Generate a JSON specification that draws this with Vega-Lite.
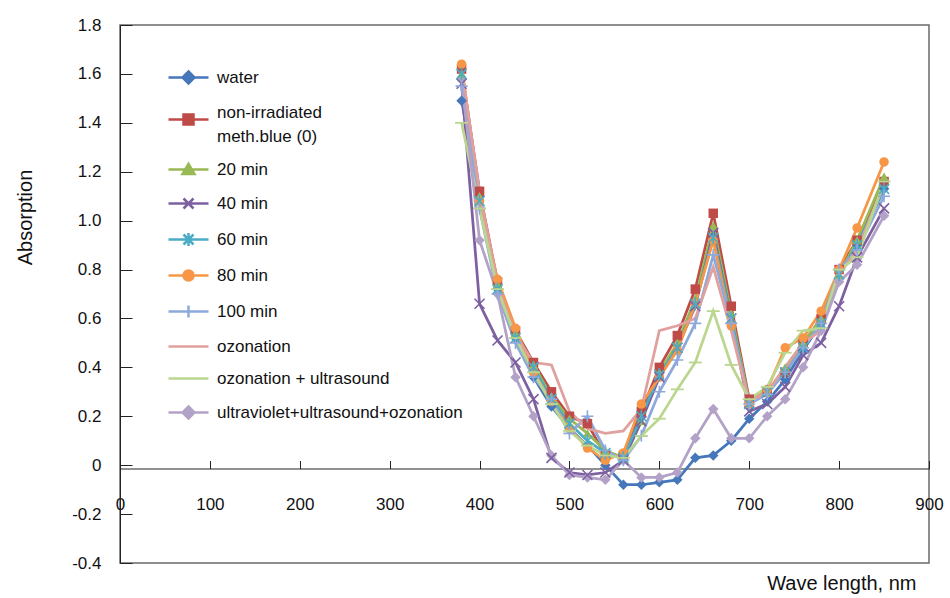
{
  "$schema": "https://vega.github.io/schema/vega-lite/v6.json",
  "width": 809,
  "height": 538,
  "autosize": {"type": "none"},
  "padding": {"left": 120, "top": 25, "right": 21, "bottom": 35},
  "background": "white",
  "config": {"view": {"stroke": "#6a6a6a", "strokeWidth": 1.5}, "font": "Liberation Sans"},
  "data": {"values": [
    {"s":"water","x":380,"y":1.49},{"s":"water","x":400,"y":1.10},{"s":"water","x":420,"y":0.72},{"s":"water","x":440,"y":0.52},{"s":"water","x":460,"y":0.36},{"s":"water","x":480,"y":0.24},{"s":"water","x":500,"y":0.15},{"s":"water","x":520,"y":0.08},{"s":"water","x":540,"y":0.00},{"s":"water","x":560,"y":-0.08},{"s":"water","x":580,"y":-0.08},{"s":"water","x":600,"y":-0.07},{"s":"water","x":620,"y":-0.06},{"s":"water","x":640,"y":0.03},{"s":"water","x":660,"y":0.04},{"s":"water","x":680,"y":0.10},{"s":"water","x":700,"y":0.19},{"s":"water","x":720,"y":0.26},{"s":"water","x":740,"y":0.35},{"s":"water","x":760,"y":0.47},{"s":"water","x":780,"y":0.58},{"s":"water","x":800,"y":0.80},{"s":"water","x":820,"y":0.90},{"s":"water","x":850,"y":1.13},
    {"s":"non-irradiated meth.blue (0)","x":380,"y":1.62},{"s":"non-irradiated meth.blue (0)","x":400,"y":1.12},{"s":"non-irradiated meth.blue (0)","x":420,"y":0.75},{"s":"non-irradiated meth.blue (0)","x":440,"y":0.55},{"s":"non-irradiated meth.blue (0)","x":460,"y":0.42},{"s":"non-irradiated meth.blue (0)","x":480,"y":0.30},{"s":"non-irradiated meth.blue (0)","x":500,"y":0.20},{"s":"non-irradiated meth.blue (0)","x":520,"y":0.17},{"s":"non-irradiated meth.blue (0)","x":540,"y":0.04},{"s":"non-irradiated meth.blue (0)","x":560,"y":0.04},{"s":"non-irradiated meth.blue (0)","x":580,"y":0.22},{"s":"non-irradiated meth.blue (0)","x":600,"y":0.40},{"s":"non-irradiated meth.blue (0)","x":620,"y":0.53},{"s":"non-irradiated meth.blue (0)","x":640,"y":0.72},{"s":"non-irradiated meth.blue (0)","x":660,"y":1.03},{"s":"non-irradiated meth.blue (0)","x":680,"y":0.65},{"s":"non-irradiated meth.blue (0)","x":700,"y":0.27},{"s":"non-irradiated meth.blue (0)","x":720,"y":0.30},{"s":"non-irradiated meth.blue (0)","x":740,"y":0.38},{"s":"non-irradiated meth.blue (0)","x":760,"y":0.50},{"s":"non-irradiated meth.blue (0)","x":780,"y":0.60},{"s":"non-irradiated meth.blue (0)","x":800,"y":0.80},{"s":"non-irradiated meth.blue (0)","x":820,"y":0.92},{"s":"non-irradiated meth.blue (0)","x":850,"y":1.16},
    {"s":"20 min","x":380,"y":1.60},{"s":"20 min","x":400,"y":1.10},{"s":"20 min","x":420,"y":0.74},{"s":"20 min","x":440,"y":0.54},{"s":"20 min","x":460,"y":0.41},{"s":"20 min","x":480,"y":0.28},{"s":"20 min","x":500,"y":0.19},{"s":"20 min","x":520,"y":0.13},{"s":"20 min","x":540,"y":0.06},{"s":"20 min","x":560,"y":0.03},{"s":"20 min","x":580,"y":0.18},{"s":"20 min","x":600,"y":0.38},{"s":"20 min","x":620,"y":0.50},{"s":"20 min","x":640,"y":0.68},{"s":"20 min","x":660,"y":0.98},{"s":"20 min","x":680,"y":0.62},{"s":"20 min","x":700,"y":0.26},{"s":"20 min","x":720,"y":0.30},{"s":"20 min","x":740,"y":0.40},{"s":"20 min","x":760,"y":0.50},{"s":"20 min","x":780,"y":0.60},{"s":"20 min","x":800,"y":0.78},{"s":"20 min","x":820,"y":0.92},{"s":"20 min","x":850,"y":1.18},
    {"s":"40 min","x":380,"y":1.56},{"s":"40 min","x":400,"y":0.66},{"s":"40 min","x":420,"y":0.51},{"s":"40 min","x":440,"y":0.42},{"s":"40 min","x":460,"y":0.27},{"s":"40 min","x":480,"y":0.03},{"s":"40 min","x":500,"y":-0.03},{"s":"40 min","x":520,"y":-0.04},{"s":"40 min","x":540,"y":-0.03},{"s":"40 min","x":560,"y":0.02},{"s":"40 min","x":580,"y":0.18},{"s":"40 min","x":600,"y":0.36},{"s":"40 min","x":620,"y":0.48},{"s":"40 min","x":640,"y":0.65},{"s":"40 min","x":660,"y":0.95},{"s":"40 min","x":680,"y":0.60},{"s":"40 min","x":700,"y":0.22},{"s":"40 min","x":720,"y":0.25},{"s":"40 min","x":740,"y":0.32},{"s":"40 min","x":760,"y":0.45},{"s":"40 min","x":780,"y":0.50},{"s":"40 min","x":800,"y":0.65},{"s":"40 min","x":820,"y":0.85},{"s":"40 min","x":850,"y":1.05},
    {"s":"60 min","x":380,"y":1.60},{"s":"60 min","x":400,"y":1.08},{"s":"60 min","x":420,"y":0.72},{"s":"60 min","x":440,"y":0.52},{"s":"60 min","x":460,"y":0.40},{"s":"60 min","x":480,"y":0.27},{"s":"60 min","x":500,"y":0.17},{"s":"60 min","x":520,"y":0.10},{"s":"60 min","x":540,"y":0.05},{"s":"60 min","x":560,"y":0.03},{"s":"60 min","x":580,"y":0.20},{"s":"60 min","x":600,"y":0.37},{"s":"60 min","x":620,"y":0.48},{"s":"60 min","x":640,"y":0.66},{"s":"60 min","x":660,"y":0.93},{"s":"60 min","x":680,"y":0.60},{"s":"60 min","x":700,"y":0.25},{"s":"60 min","x":720,"y":0.30},{"s":"60 min","x":740,"y":0.38},{"s":"60 min","x":760,"y":0.48},{"s":"60 min","x":780,"y":0.58},{"s":"60 min","x":800,"y":0.78},{"s":"60 min","x":820,"y":0.90},{"s":"60 min","x":850,"y":1.13},
    {"s":"80 min","x":380,"y":1.64},{"s":"80 min","x":400,"y":1.08},{"s":"80 min","x":420,"y":0.76},{"s":"80 min","x":440,"y":0.56},{"s":"80 min","x":460,"y":0.38},{"s":"80 min","x":480,"y":0.26},{"s":"80 min","x":500,"y":0.15},{"s":"80 min","x":520,"y":0.07},{"s":"80 min","x":540,"y":0.02},{"s":"80 min","x":560,"y":0.05},{"s":"80 min","x":580,"y":0.25},{"s":"80 min","x":600,"y":0.36},{"s":"80 min","x":620,"y":0.47},{"s":"80 min","x":640,"y":0.66},{"s":"80 min","x":660,"y":0.92},{"s":"80 min","x":680,"y":0.57},{"s":"80 min","x":700,"y":0.25},{"s":"80 min","x":720,"y":0.31},{"s":"80 min","x":740,"y":0.48},{"s":"80 min","x":760,"y":0.52},{"s":"80 min","x":780,"y":0.63},{"s":"80 min","x":800,"y":0.80},{"s":"80 min","x":820,"y":0.97},{"s":"80 min","x":850,"y":1.24},
    {"s":"100 min","x":380,"y":1.55},{"s":"100 min","x":400,"y":1.05},{"s":"100 min","x":420,"y":0.70},{"s":"100 min","x":440,"y":0.50},{"s":"100 min","x":460,"y":0.36},{"s":"100 min","x":480,"y":0.27},{"s":"100 min","x":500,"y":0.13},{"s":"100 min","x":520,"y":0.20},{"s":"100 min","x":540,"y":0.06},{"s":"100 min","x":560,"y":0.02},{"s":"100 min","x":580,"y":0.12},{"s":"100 min","x":600,"y":0.30},{"s":"100 min","x":620,"y":0.43},{"s":"100 min","x":640,"y":0.58},{"s":"100 min","x":660,"y":0.86},{"s":"100 min","x":680,"y":0.58},{"s":"100 min","x":700,"y":0.25},{"s":"100 min","x":720,"y":0.29},{"s":"100 min","x":740,"y":0.38},{"s":"100 min","x":760,"y":0.48},{"s":"100 min","x":780,"y":0.58},{"s":"100 min","x":800,"y":0.80},{"s":"100 min","x":820,"y":0.88},{"s":"100 min","x":850,"y":1.10},
    {"s":"ozonation","x":380,"y":1.62},{"s":"ozonation","x":400,"y":1.12},{"s":"ozonation","x":420,"y":0.74},{"s":"ozonation","x":440,"y":0.53},{"s":"ozonation","x":460,"y":0.42},{"s":"ozonation","x":480,"y":0.41},{"s":"ozonation","x":500,"y":0.22},{"s":"ozonation","x":520,"y":0.15},{"s":"ozonation","x":540,"y":0.13},{"s":"ozonation","x":560,"y":0.14},{"s":"ozonation","x":580,"y":0.23},{"s":"ozonation","x":600,"y":0.55},{"s":"ozonation","x":620,"y":0.57},{"s":"ozonation","x":640,"y":0.60},{"s":"ozonation","x":660,"y":0.81},{"s":"ozonation","x":680,"y":0.55},{"s":"ozonation","x":700,"y":0.26},{"s":"ozonation","x":720,"y":0.30},{"s":"ozonation","x":740,"y":0.40},{"s":"ozonation","x":760,"y":0.50},{"s":"ozonation","x":780,"y":0.55},{"s":"ozonation","x":800,"y":0.78},{"s":"ozonation","x":820,"y":0.88},{"s":"ozonation","x":850,"y":1.15},
    {"s":"ozonation + ultrasound","x":380,"y":1.40},{"s":"ozonation + ultrasound","x":400,"y":1.05},{"s":"ozonation + ultrasound","x":420,"y":0.72},{"s":"ozonation + ultrasound","x":440,"y":0.52},{"s":"ozonation + ultrasound","x":460,"y":0.38},{"s":"ozonation + ultrasound","x":480,"y":0.25},{"s":"ozonation + ultrasound","x":500,"y":0.14},{"s":"ozonation + ultrasound","x":520,"y":0.08},{"s":"ozonation + ultrasound","x":540,"y":0.04},{"s":"ozonation + ultrasound","x":560,"y":0.03},{"s":"ozonation + ultrasound","x":580,"y":0.12},{"s":"ozonation + ultrasound","x":600,"y":0.19},{"s":"ozonation + ultrasound","x":620,"y":0.31},{"s":"ozonation + ultrasound","x":640,"y":0.42},{"s":"ozonation + ultrasound","x":660,"y":0.63},{"s":"ozonation + ultrasound","x":680,"y":0.41},{"s":"ozonation + ultrasound","x":700,"y":0.27},{"s":"ozonation + ultrasound","x":720,"y":0.32},{"s":"ozonation + ultrasound","x":740,"y":0.46},{"s":"ozonation + ultrasound","x":760,"y":0.55},{"s":"ozonation + ultrasound","x":780,"y":0.56},{"s":"ozonation + ultrasound","x":800,"y":0.80},{"s":"ozonation + ultrasound","x":820,"y":0.85},{"s":"ozonation + ultrasound","x":850,"y":1.16},
    {"s":"ultraviolet+ultrasound+ozonation","x":380,"y":1.58},{"s":"ultraviolet+ultrasound+ozonation","x":400,"y":0.92},{"s":"ultraviolet+ultrasound+ozonation","x":420,"y":0.70},{"s":"ultraviolet+ultrasound+ozonation","x":440,"y":0.36},{"s":"ultraviolet+ultrasound+ozonation","x":460,"y":0.20},{"s":"ultraviolet+ultrasound+ozonation","x":480,"y":0.04},{"s":"ultraviolet+ultrasound+ozonation","x":500,"y":-0.04},{"s":"ultraviolet+ultrasound+ozonation","x":520,"y":-0.05},{"s":"ultraviolet+ultrasound+ozonation","x":540,"y":-0.06},{"s":"ultraviolet+ultrasound+ozonation","x":560,"y":0.02},{"s":"ultraviolet+ultrasound+ozonation","x":580,"y":-0.05},{"s":"ultraviolet+ultrasound+ozonation","x":600,"y":-0.05},{"s":"ultraviolet+ultrasound+ozonation","x":620,"y":-0.03},{"s":"ultraviolet+ultrasound+ozonation","x":640,"y":0.11},{"s":"ultraviolet+ultrasound+ozonation","x":660,"y":0.23},{"s":"ultraviolet+ultrasound+ozonation","x":680,"y":0.11},{"s":"ultraviolet+ultrasound+ozonation","x":700,"y":0.11},{"s":"ultraviolet+ultrasound+ozonation","x":720,"y":0.20},{"s":"ultraviolet+ultrasound+ozonation","x":740,"y":0.27},{"s":"ultraviolet+ultrasound+ozonation","x":760,"y":0.40},{"s":"ultraviolet+ultrasound+ozonation","x":780,"y":0.55},{"s":"ultraviolet+ultrasound+ozonation","x":800,"y":0.75},{"s":"ultraviolet+ultrasound+ozonation","x":820,"y":0.82},{"s":"ultraviolet+ultrasound+ozonation","x":850,"y":1.02}
  ]},
  "encoding": {
    "x": {"field": "x", "type": "quantitative",
      "scale": {"domain": [0, 900], "nice": false, "zero": false},
      "axis": {"title": "Wave length, nm", "values": [0,100,200,300,400,500,600,700,800,900],
        "offset": -94.5, "grid": false, "tickSize": -8, "labelPadding": 36,
        "domainColor": "#222", "tickColor": "#222", "labelFontSize": 17, "labelColor": "#111",
        "labelFlush": false, "labelOverlap": false,
        "titleFontSize": 20, "titleFontWeight": "normal", "titleColor": "#111",
        "titleX": 796, "titleY": 115, "titleAlign": "right", "titleBaseline": "middle", "titleAnchor": null}},
    "y": {"field": "y", "type": "quantitative",
      "scale": {"domain": [-0.4, 1.8], "nice": false, "zero": false},
      "axis": {"title": "Absorption", "values": [-0.4,-0.2,0,0.2,0.4,0.6,0.8,1,1.2,1.4,1.6,1.8],
        "labelExpr": "datum.value == 0 ? '0' : replace(format(datum.value, '.1f'), '\u2212', '-')",
        "grid": false, "tickSize": -12, "labelPadding": 31,
        "domainColor": "#222", "tickColor": "#222", "labelFontSize": 17, "labelColor": "#111",
        "labelFlush": false, "labelOverlap": false,
        "titleFontSize": 20, "titleFontWeight": "normal", "titleColor": "#111",
        "titleX": -95, "titleY": 192, "titleAlign": "center", "titleBaseline": "middle", "titleAngle": -90}},
    "color": {"field": "s", "type": "nominal",
      "scale": {
        "domain": ["water","non-irradiated meth.blue (0)","20 min","40 min","60 min","80 min","100 min","ozonation","ozonation + ultrasound","ultraviolet+ultrasound+ozonation"],
        "range": ["#4677BA","#BE4B48","#98B954","#7D60A0","#4BACC6","#F79646","#8DA9DB","#E0A09E","#BBD68F","#B3A2C7"]},
      "legend": {
        "orient": "none", "legendX": 60, "legendY": 44, "title": null,
        "labelFont": "Liberation Sans", "labelFontSize": 17, "labelColor": "#111", "labelLimit": 400,
        "symbolSize": 100, "symbolStrokeWidth": 2.5, "labelOffset": 20, "rowPadding": 14,
        "labelExpr": "datum.label == 'non-irradiated meth.blue (0)' ? ['non-irradiated', 'meth.blue (0)'] : datum.label",
        "encode": {
          "labels": {"update": {"lineHeight": {"value": 24}, "dy": {"signal": "datum.value == 'non-irradiated meth.blue (0)' ? -7 : 0"}}},
          "symbols": {"update": {
          "shape": {"signal": "(datum.value == 'water' || datum.value == 'ultraviolet+ultrasound+ozonation') ? 'M-4,0H4M0,-1.2L1.2,0L0,1.2L-1.2,0Z' : datum.value == 'non-irradiated meth.blue (0)' ? 'M-4,0H4M-1,-1H1V1H-1Z' : datum.value == '20 min' ? 'M-4,0H4M0,-1.1L1.2,0.9L-1.2,0.9Z' : datum.value == '40 min' ? 'M-4,0H4M-1,-1L1,1M-1,1L1,-1' : datum.value == '60 min' ? 'M-4,0H4M-1,-1L1,1M-1,1L1,-1M0,-1.3V1.3' : datum.value == '80 min' ? 'M-4,0H4M1,0A1,1,0,1,1,-1,0A1,1,0,1,1,1,0Z' : datum.value == '100 min' ? 'M-4,0H4M0,-1.2V1.2' : 'M-4,0H4'"},
          "fill": {"signal": "scale('color', datum.value)"},
          "stroke": {"signal": "scale('color', datum.value)"},
          "strokeWidth": {"value": 2.5},
          "opacity": {"value": 1}
        }}}
      }}
  },
  "layer": [
    {"mark": {"type": "line", "strokeWidth": 2.75}},
    {"transform": [{"filter": "datum.s == 'water' || datum.s == 'ultraviolet+ultrasound+ozonation'"}],
     "mark": {"type": "point", "shape": "diamond", "filled": true, "size": 110, "opacity": 1}},
    {"transform": [{"filter": "datum.s == 'non-irradiated meth.blue (0)'"}],
     "mark": {"type": "point", "shape": "square", "filled": true, "size": 90, "opacity": 1}},
    {"transform": [{"filter": "datum.s == '20 min'"}],
     "mark": {"type": "point", "shape": "triangle-up", "filled": true, "size": 90, "opacity": 1}},
    {"transform": [{"filter": "datum.s == '80 min'"}],
     "mark": {"type": "point", "shape": "circle", "filled": true, "size": 90, "opacity": 1}},
    {"transform": [{"filter": "datum.s == '40 min'"}],
     "mark": {"type": "point", "shape": "M-1,-1L1,1M-1,1L1,-1", "filled": false, "size": 100, "strokeWidth": 1.6, "opacity": 1}},
    {"transform": [{"filter": "datum.s == '60 min'"}],
     "mark": {"type": "point", "shape": "M-1,-1L1,1M-1,1L1,-1M0,-1.3V1.3", "filled": false, "size": 100, "strokeWidth": 1.6, "opacity": 1}},
    {"transform": [{"filter": "datum.s == '100 min'"}],
     "mark": {"type": "point", "shape": "M-1.2,0H1.2M0,-1.2V1.2", "filled": false, "size": 100, "strokeWidth": 1.6, "opacity": 1}},
    {"transform": [{"filter": "datum.s == 'ozonation + ultrasound'"}],
     "mark": {"type": "point", "shape": "M-1.3,0H1.3", "filled": false, "size": 100, "strokeWidth": 1.8, "opacity": 1}}
  ]
}
